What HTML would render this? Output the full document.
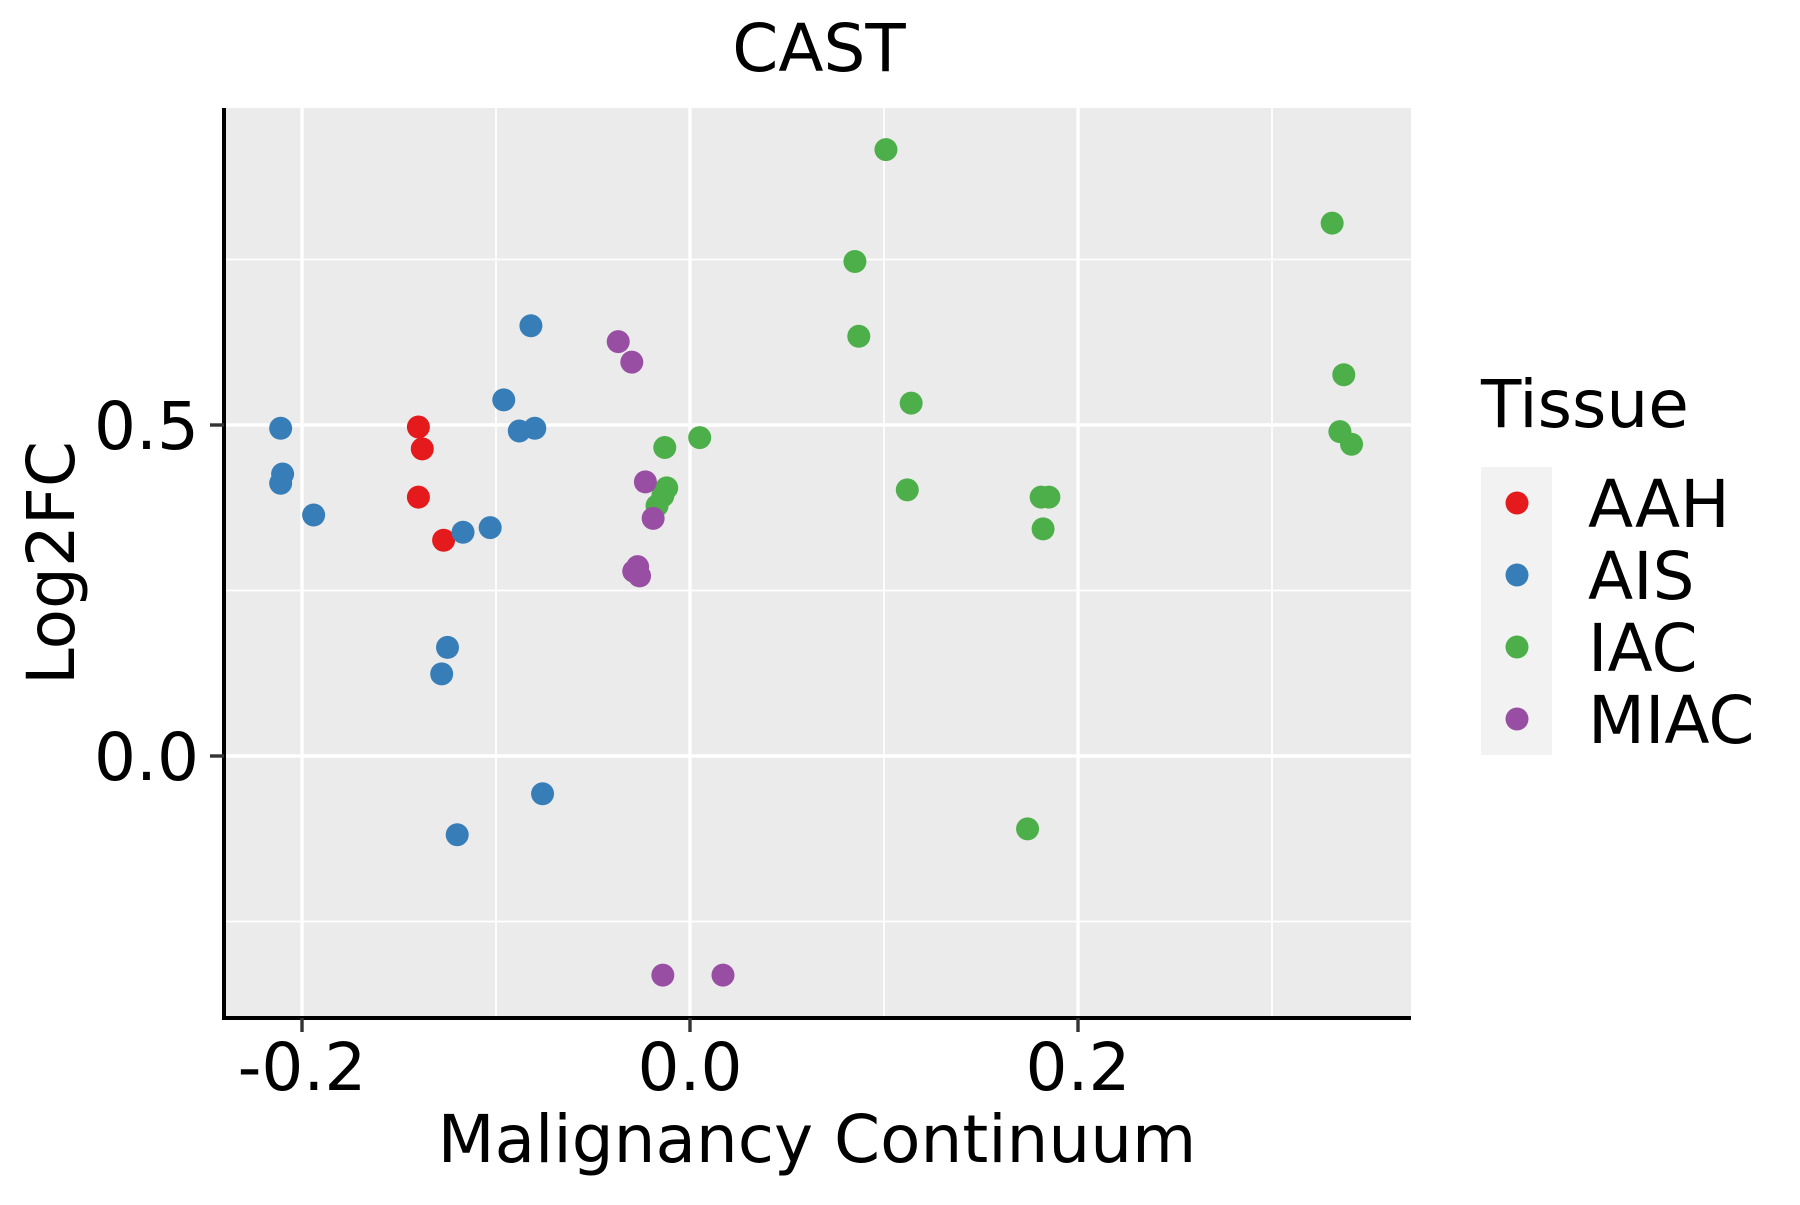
<!DOCTYPE html>
<html><head><meta charset="utf-8"><style>
body{margin:0;background:#fff}
svg text{font-family:"DejaVu Sans","Liberation Sans",sans-serif}
</style></head><body>
<svg id="chart" width="1800" height="1200" viewBox="0 0 1800 1200" xmlns="http://www.w3.org/2000/svg">
<text x="819" y="71" font-size="66" text-anchor="middle">CAST</text>
<rect x="224" y="108" width="1187" height="910" fill="#ebebeb"/>
<g id="grid"></g>
<g id="points"></g>
<line x1="224" y1="108" x2="224" y2="1020" stroke="#000" stroke-width="4"/>
<line x1="222" y1="1018" x2="1411" y2="1018" stroke="#000" stroke-width="4"/>
<g id="axes"></g>
<text x="817" y="1162" font-size="66" text-anchor="middle">Malignancy Continuum</text>
<text transform="translate(74,563) rotate(-90)" font-size="66" text-anchor="middle">Log2FC</text>
<g>
<text x="1481" y="427" font-size="66">Tissue</text>
<rect x="1481" y="467" width="71" height="288" fill="#f2f2f2"/>
<g id="legend-entries"></g>
</g>
</svg>
<script>
const categories = ["AAH","AIS","IAC","MIAC"];
const colors = ["#e41a1c","#377eb8","#4daf4a","#984ea3"];
const aahX = [-0.140,-0.138,-0.140,-0.127];
const aahY = [0.497,0.464,0.391,0.326];
const aisX = [-0.211,-0.210,-0.211,-0.194,-0.082,-0.096,-0.088,-0.080,-0.117,-0.103,-0.125,-0.128,-0.076,-0.120];
const aisY = [0.495,0.426,0.412,0.364,0.650,0.538,0.491,0.495,0.338,0.345,0.164,0.124,-0.057,-0.119];
const iacX = [0.101,0.085,0.087,0.114,0.112,0.005,-0.013,-0.012,-0.014,-0.017,0.181,0.185,0.182,0.174,0.331,0.337,0.335,0.341];
const iacY = [0.916,0.747,0.634,0.533,0.402,0.481,0.466,0.405,0.393,0.378,0.391,0.391,0.343,-0.110,0.805,0.576,0.490,0.471];
const miacX = [-0.037,-0.030,-0.023,-0.019,-0.027,-0.029,-0.026,-0.014,0.017];
const miacY = [0.626,0.595,0.414,0.359,0.286,0.279,0.272,-0.331,-0.331];
const xTicks = [-0.2,0.0,0.2];
const xTickLabels = ["-0.2","0.0","0.2"];
const xMinor = [-0.1,0.1,0.3];
const yTicks = [0.0,0.5];
const yTickLabels = ["0.0","0.5"];
const yMinor = [-0.25,0.25,0.75];

const NS="http://www.w3.org/2000/svg";
function sx(v){return 690+v*1940;}
function sy(v){return 756-v*662;}
function mk(tag,attrs,parent){const e=document.createElementNS(NS,tag);for(const k in attrs)e.setAttribute(k,attrs[k]);parent.appendChild(e);return e;}
const grid=document.getElementById('grid'),axes=document.getElementById('axes'),pts=document.getElementById('points'),leg=document.getElementById('legend-entries');
xMinor.forEach(v=>{const l=mk('line',{x1:sx(v),x2:sx(v),y1:108,y2:1018,stroke:'#fff','stroke-width':1.7},grid);

});
yMinor.forEach(v=>{const l=mk('line',{x1:224,x2:1411,y1:sy(v),y2:sy(v),stroke:'#fff','stroke-width':1.7},grid);

});
xTicks.forEach((v,i)=>{const l=mk('line',{x1:sx(v),x2:sx(v),y1:108,y2:1018,stroke:'#fff','stroke-width':3.4},grid);


const t=mk('line',{x1:sx(v),x2:sx(v),y1:1018,y2:1032,stroke:'#333','stroke-width':3.4},axes);


const tx=mk('text',{x:sx(v),y:1090,'font-size':66,'text-anchor':'middle'},axes);tx.textContent=xTickLabels[i];

});
yTicks.forEach((v,i)=>{const l=mk('line',{x1:224,x2:1411,y1:sy(v),y2:sy(v),stroke:'#fff','stroke-width':3.4},grid);


const t=mk('line',{x1:210,x2:224,y1:sy(v),y2:sy(v),stroke:'#333','stroke-width':3.4},axes);


const tx=mk('text',{x:199,y:sy(v)+24,'font-size':66,'text-anchor':'end'},axes);tx.textContent=yTickLabels[i];

});
const seriesX=[aahX,aisX,iacX,miacX],seriesY=[aahY,aisY,iacY,miacY];
seriesX.forEach((xs,s)=>{xs.forEach((x,j)=>{const c=mk('circle',{cx:sx(x),cy:sy(seriesY[s][j]),r:11.5,fill:colors[s]},pts);

});});
categories.forEach((c,i)=>{const y=503+i*72;
const k=mk('circle',{cx:1517,cy:y,r:11.5,fill:colors[i]},leg);


const t=mk('text',{x:1588,y:y+24,'font-size':66},leg);t.textContent=c;

});
</script>
</body></html>
